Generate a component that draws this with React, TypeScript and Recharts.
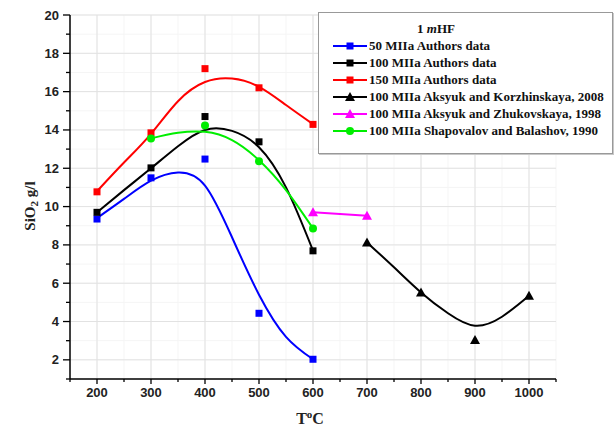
import {
  ComposedChart,
  Line,
  Scatter,
  XAxis,
  YAxis,
  CartesianGrid,
} from 'recharts'

// ─── Data ─────────────────────────────────────────────────────────────────────

// measured points (T in °C, SiO2 in g/l)
const AUTHORS_T = [200, 300, 400, 500, 600]
const P50_VALUES = [9.35, 11.5, 12.48, 4.43, 2.03]
const P100_VALUES = [9.7, 12.02, 14.7, 13.38, 7.69]
const P150_VALUES = [10.77, 13.85, 17.2, 16.2, 14.29]

const SHAPOVALOV_T = [300, 400, 500, 600]
const SHAPOVALOV_VALUES = [13.56, 14.23, 12.37, 8.86]

const ZHUKOVSKAYA_T = [600, 700]
const ZHUKOVSKAYA_VALUES = [9.7, 9.52]

const KORZHINSKAYA_T = [700, 800, 900, 1000]
const KORZHINSKAYA_VALUES = [8.13, 5.52, 3.03, 5.34]

// fitted curves
const FIT_T = [200, 250, 300, 350, 400, 450, 500, 550, 600]
const FIT50_VALUES = [9.4, 10.4, 11.35, 11.78, 11.1, 8.4, 5.4, 3.2, 2.03]
const FIT100_VALUES = [9.7, 10.86, 12.0, 13.15, 14.0, 13.95, 13.1, 11.0, 7.7]
const FIT150_VALUES = [10.8, 12.3, 13.8, 15.5, 16.5, 16.68, 16.25, 15.3, 14.3]

const FIT_SHAPOVALOV_T = [300, 350, 400, 450, 500, 550, 600]
const FIT_SHAPOVALOV_VALUES = [13.56, 13.85, 13.9, 13.47, 12.42, 10.86, 8.86]

const FIT_KORZHINSKAYA_T = [700, 750, 800, 850, 900, 950, 1000]
const FIT_KORZHINSKAYA_VALUES = [8.13, 6.83, 5.52, 4.43, 3.78, 4.25, 5.34]

// axis ticks
const X_TICKS = [150, 200, 250, 300, 350, 400, 450, 500, 550, 600, 650, 700, 750, 800, 850, 900, 950, 1000, 1050]
const X_MAJOR = [200, 300, 400, 500, 600, 700, 800, 900, 1000]
const Y_TICKS = [1, 2, 3, 4, 5, 6, 7, 8, 9, 10, 11, 12, 13, 14, 15, 16, 17, 18, 19, 20]
const Y_MAJOR = [2, 4, 6, 8, 10, 12, 14, 16, 18, 20]

const LEGEND_LABELS = [
  '50 MIIa Authors data',
  '100 MIIa Authors data',
  '150 MIIa Authors data',
  '100 MIIa Aksyuk and Korzhinskaya, 2008',
  '100 MIIa Aksyuk and Zhukovskaya, 1998',
  '100 MIIa Shapovalov and Balashov, 1990',
]

// ─── Helpers ──────────────────────────────────────────────────────────────────

const zip = (xs: number[], ys: number[]) => xs.map((x, i) => ({ x, y: ys[i] }))

const BLUE = '#0000ff'
const BLACK = '#000000'
const RED = '#ff0000'
const MAGENTA = '#ff00ff'
const GREEN = '#00ee00'

const SERIF = '"Liberation Serif", "Times New Roman", serif'
const SANS = '"Liberation Sans", Arial, sans-serif'

type Marker = 'square' | 'triangle' | 'circle'

function MarkerShape({ cx, cy, kind, color }: { cx: number; cy: number; kind: Marker; color: string }) {
  if (kind === 'square') return <rect x={cx - 3.5} y={cy - 3.5} width={7} height={7} fill={color} />
  if (kind === 'triangle')
    return <polygon points={`${cx},${cy - 5} ${cx + 5},${cy + 4} ${cx - 5},${cy + 4}`} fill={color} />
  return <circle cx={cx} cy={cy} r={4} fill={color} />
}

function XTick({ x, y, payload }: any) {
  const major = X_MAJOR.includes(payload.value)
  return (
    <g>
      <line x1={x} y1={y} x2={x} y2={y + (major ? 5 : 3)} stroke="#000" strokeWidth={1.3} />
      {major && (
        <text x={x} y={y + 18} textAnchor="middle" fontFamily={SANS} fontWeight="bold" fontSize={13} fill="#222">
          {payload.value}
        </text>
      )}
    </g>
  )
}

function YTick({ x, y, payload }: any) {
  const major = Y_MAJOR.includes(payload.value)
  return (
    <g>
      <line x1={x - (major ? 7 : 4)} y1={y} x2={x} y2={y} stroke="#000" strokeWidth={1.3} />
      {major && (
        <text x={x - 11} y={y} dy="0.35em" textAnchor="end" fontFamily={SANS} fontWeight="bold" fontSize={13} fill="#222">
          {payload.value}
        </text>
      )}
    </g>
  )
}

const SERIES = [
  { fit: zip(FIT_T, FIT50_VALUES), points: zip(AUTHORS_T, P50_VALUES), color: BLUE, marker: 'square' as Marker },
  { fit: zip(FIT_T, FIT100_VALUES), points: zip(AUTHORS_T, P100_VALUES), color: BLACK, marker: 'square' as Marker },
  { fit: zip(FIT_T, FIT150_VALUES), points: zip(AUTHORS_T, P150_VALUES), color: RED, marker: 'square' as Marker },
  { fit: zip(FIT_KORZHINSKAYA_T, FIT_KORZHINSKAYA_VALUES), points: zip(KORZHINSKAYA_T, KORZHINSKAYA_VALUES), color: BLACK, marker: 'triangle' as Marker },
  { fit: zip(ZHUKOVSKAYA_T, ZHUKOVSKAYA_VALUES), points: zip(ZHUKOVSKAYA_T, ZHUKOVSKAYA_VALUES), color: MAGENTA, marker: 'triangle' as Marker },
  { fit: zip(FIT_SHAPOVALOV_T, FIT_SHAPOVALOV_VALUES), points: zip(SHAPOVALOV_T, SHAPOVALOV_VALUES), color: GREEN, marker: 'circle' as Marker },
]

// ─── Legend ───────────────────────────────────────────────────────────────────

function LegendBox() {
  return (
    <div
      style={{
        position: 'absolute',
        left: 318,
        top: 12,
        width: 293,
        height: 140,
        border: '1px solid #999',
        boxShadow: '1px 1px 0 #c8c8c8',
        background: '#fff',
        fontFamily: SERIF,
        fontWeight: 'bold',
        fontSize: 13,
        color: '#111',
      }}
    >
      <div style={{ position: 'absolute', left: 0, width: 234, top: 8, textAlign: 'center' }}>
        1 <i>m</i>HF
      </div>
      {SERIES.map((s, i) => (
        <div key={LEGEND_LABELS[i]} style={{ position: 'absolute', left: 14, top: 24 + i * 17, height: 17, display: 'flex', alignItems: 'center' }}>
          <svg width={34} height={12} style={{ marginRight: 2 }}>
            <line x1={0} y1={6} x2={34} y2={6} stroke={s.color} strokeWidth={2} />
            <MarkerShape cx={17} cy={6} kind={s.marker} color={s.color} />
          </svg>
          <span>{LEGEND_LABELS[i]}</span>
        </div>
      ))}
    </div>
  )
}

// ─── Chart ────────────────────────────────────────────────────────────────────

export default function App() {
  return (
    <div style={{ position: 'absolute', left: 0, top: 0, width: 615, height: 432, background: '#fff' }}>
      <ComposedChart width={615} height={432} margin={{ top: 15, right: 59, left: 10, bottom: 3 }}>
        <CartesianGrid verticalValues={X_TICKS} horizontalValues={Y_TICKS} stroke="#f5f5f5" strokeWidth={1} />
        <CartesianGrid verticalValues={X_MAJOR} horizontalValues={Y_MAJOR} stroke="#e2e2e2" strokeWidth={1} />
        <XAxis
          type="number"
          dataKey="x"
          domain={[150, 1050]}
          ticks={X_TICKS}
          interval={0}
          allowDataOverflow
          height={50}
          tickSize={0}
          tickMargin={0}
          tickLine={false}
          tick={<XTick />}
          axisLine={{ stroke: '#000', strokeWidth: 1.5 }}
          label={{
            content: () => (
              <text x={310} y={424} textAnchor="middle" fontFamily={SERIF} fontWeight="bold" fontSize={16} fill="#222">
                T<tspan dy={-6} fontSize={11}>o</tspan>
                <tspan dy={6}>C</tspan>
              </text>
            ),
          }}
        />
        <YAxis
          type="number"
          dataKey="y"
          domain={[1, 20]}
          ticks={Y_TICKS}
          interval={0}
          allowDataOverflow
          width={60}
          tickSize={0}
          tickMargin={0}
          tickLine={false}
          tick={<YTick />}
          axisLine={{ stroke: '#000', strokeWidth: 1.5 }}
          label={{
            content: () => (
              <text
                x={30}
                y={206}
                transform="rotate(-90 30 206)"
                textAnchor="middle"
                dominantBaseline="central"
                fontFamily={SERIF}
                fontWeight="bold"
                fontSize={15}
                fill="#222"
              >
                SiO<tspan dy={4} fontSize={11}>2</tspan>
                <tspan dy={-4}> g/l</tspan>
              </text>
            ),
          }}
        />
        {SERIES.map((s, i) => (
          <Line
            key={`fit-${i}`}
            data={s.fit}
            dataKey="y"
            type="natural"
            stroke={s.color}
            strokeWidth={2}
            dot={false}
            activeDot={false}
            isAnimationActive={false}
          />
        ))}
        {SERIES.map((s, i) => (
          <Scatter
            key={`pts-${i}`}
            data={s.points}
            dataKey="y"
            fill={s.color}
            isAnimationActive={false}
            shape={(p: any) => <MarkerShape cx={p.cx} cy={p.cy} kind={s.marker} color={s.color} />}
          />
        ))}
      </ComposedChart>
      <LegendBox />
    </div>
  )
}
